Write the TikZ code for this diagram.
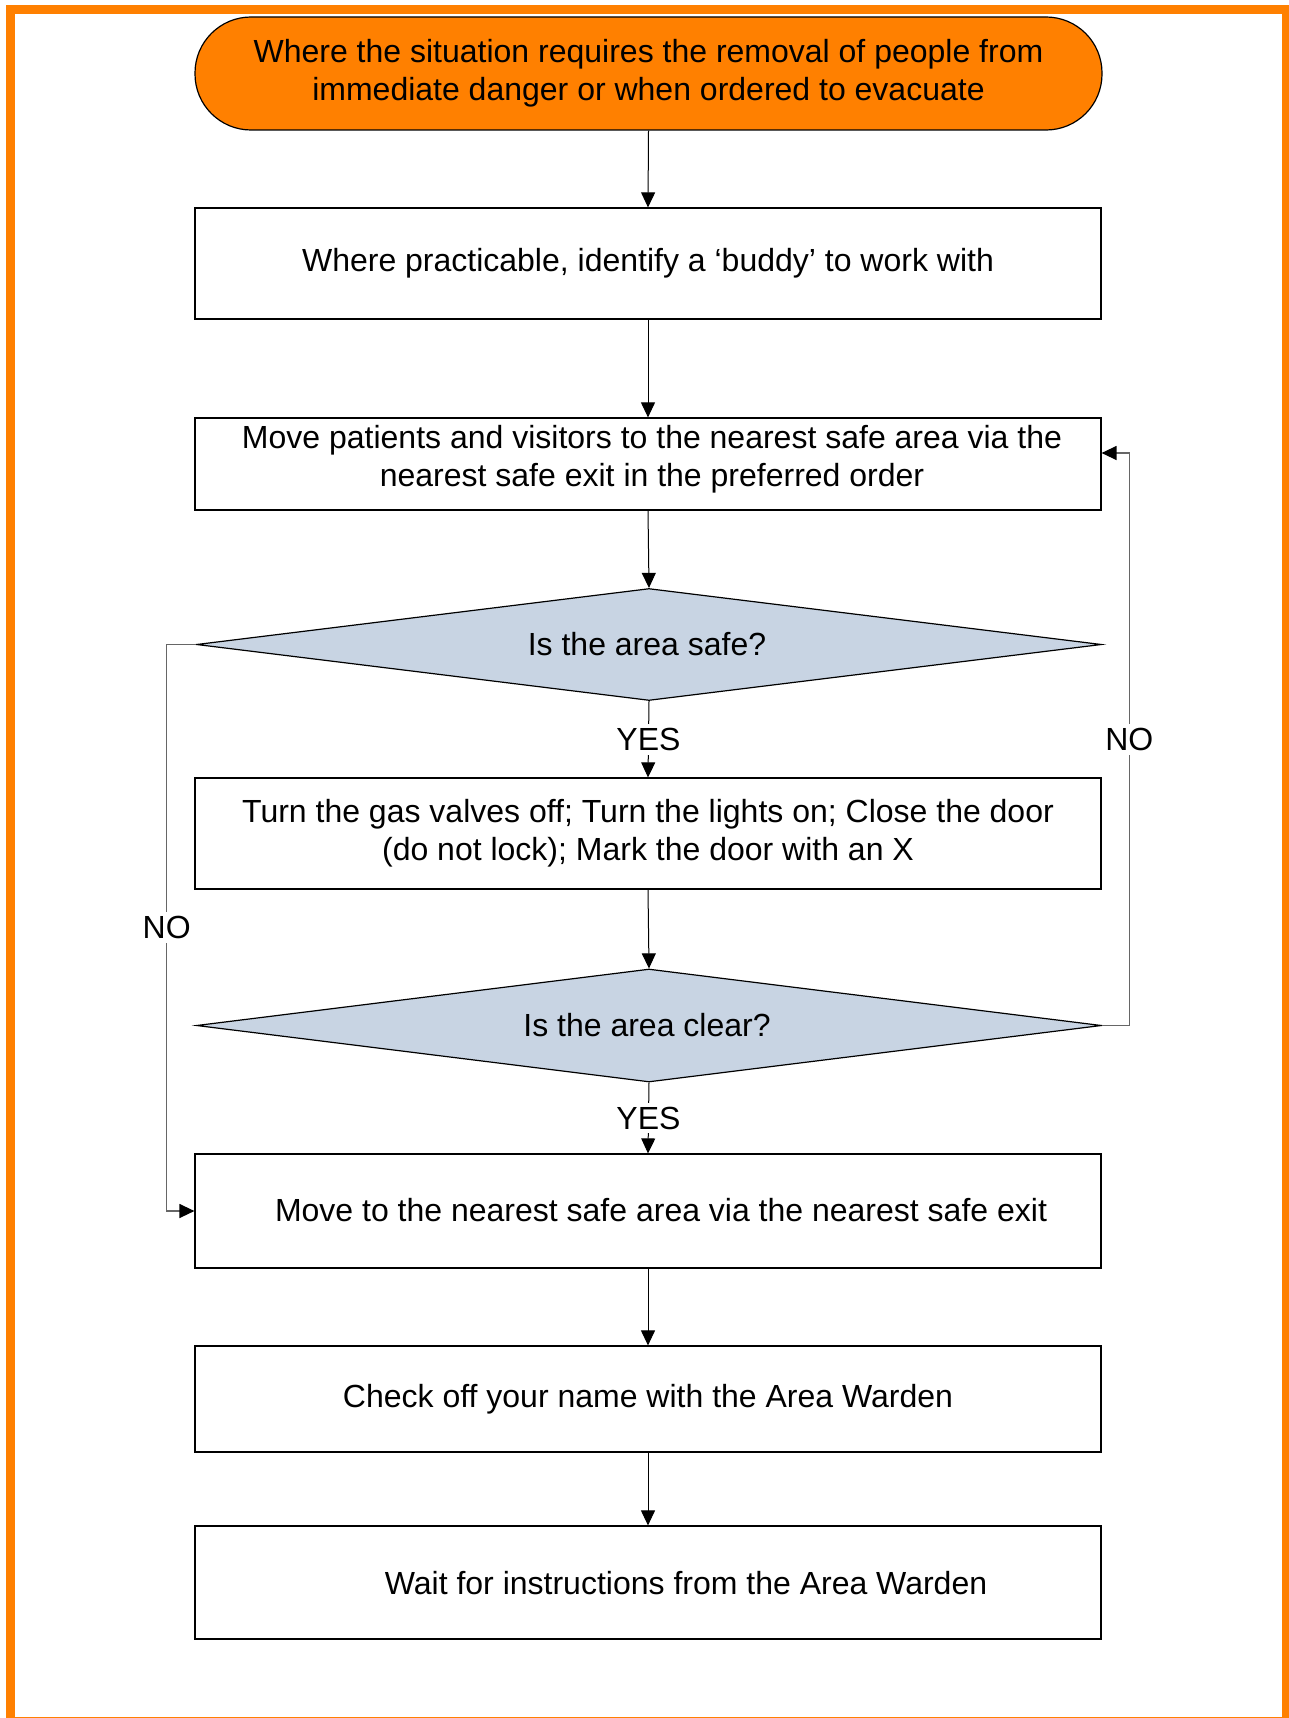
\documentclass[tikz,border=0pt]{standalone}
\usepackage{fontspec}
\setmainfont{Liberation Sans}
\usetikzlibrary{shapes.geometric,arrows.meta}
\definecolor{frameorange}{RGB}{255,128,0}
\definecolor{decisionfill}{RGB}{200,212,227}
\begin{document}
\begin{tikzpicture}[x=1pt,y=-1pt,
  every node/.style={font=\fontsize{32}{38}\selectfont, inner sep=0pt},
  term/.style={draw=black, line width=1.2pt, fill=frameorange, rounded corners=56pt,
    minimum width=907pt, minimum height=113pt, align=center},
  stepbox/.style={draw=black, line width=1.2pt, fill=white, minimum width=906pt, align=center},
  steptext/.style={align=center},
  decision/.style={diamond, draw=black, line width=1.2pt, fill=decisionfill, aspect=8,
    minimum width=905pt, minimum height=112pt},
  flow/.style={draw=black, line width=1pt, -{Triangle[width=14pt,length=15pt]}},
  loopline/.style={draw=black!60, line width=1.3pt,
    -{Triangle[width=14pt,length=15pt,color=black]}},
  answer/.style={fill=white, inner sep=4pt}
]
\useasboundingbox (0,0) rectangle (1289,1718);

% orange page frame
\begin{scope}
  \clip (0,0) rectangle (1289,1718);
  \draw[frameorange, line width=9pt] (10.5,9.5) rectangle (1286.5,1721.5);
\end{scope}

% start terminal
\node[term] (start) at (648.5,73.5)
  {Where the situation requires the removal of people from\\immediate danger or when ordered to evacuate};

% process steps and decisions
\node[stepbox, minimum height=111pt] (b1) at (648,263.5)
  {Where practicable, identify a ‘buddy’ to work with};
\node[stepbox, minimum height=92pt] (b2) at (648,464) {};
\node[steptext] (b2text) at (652,459)
  {Move patients and visitors to the nearest safe area via the\\nearest safe exit in the preferred order};
\node[decision] (d1) at (649,644.5) {};
\node (d1text) at (647,644.5) {Is the area safe?};
\node[stepbox, minimum height=111pt] (b3) at (648,833.5)
  {Turn the gas valves off; Turn the lights on; Close the door\\(do not lock); Mark the door with an X};
\node[decision, minimum height=113pt] (d2) at (649,1025.5) {};
\node (d2text) at (647,1025.5) {Is the area clear?};
\node[stepbox, minimum height=114pt] (b4) at (648,1211) {};
\node[steptext] (b4text) at (661,1210)
  {Move to the nearest safe area via the nearest safe exit};
\node[stepbox, minimum height=106pt] (b5) at (648,1399)
  {Check off your name with the Area Warden};
\node[stepbox, minimum height=113pt] (b6) at (648,1582.5) {};
\node[steptext] (b6text) at (686,1583)
  {Wait for instructions from the Area Warden};

% main flow
\draw[flow] (start.south) -- (b1.north);
\draw[flow] (b1.south) -- (b2.north);
\draw[flow] (b2.south) -- (d1.north);
\draw[flow] (d1.south) -- node[answer] (yes1) {YES} (b3.north);
\draw[flow] (b3.south) -- (d2.north);
\draw[flow] (d2.south) -- node[answer] (yes2) {YES} (b4.north);
\draw[flow] (b4.south) -- (b5.north);
\draw[flow] (b5.south) -- (b6.north);

% NO branches
\coordinate (lx) at (166.7,644.5);
\coordinate (rx) at (1129.3,1025.5);
\draw[loopline] (d1.west) -- (lx) |- node[answer, pos=0.25] (no1) {NO} (b4.west);
\draw[loopline] (d2.east) -- (rx) |- node[answer, pos=0.25] (no2) {NO} ([yshift=11pt]b2.east);
\end{tikzpicture}
\end{document}
